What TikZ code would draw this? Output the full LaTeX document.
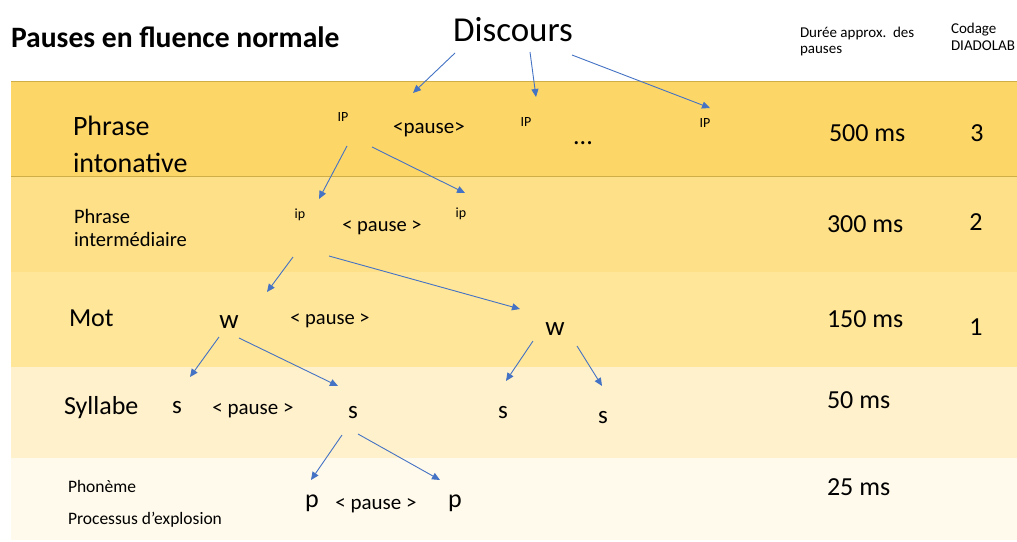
\documentclass[tikz,border=0pt]{standalone}
\usepackage{fontspec}
\setmainfont{Carlito}
\usetikzlibrary{arrows.meta,calc}
\definecolor{bandA}{HTML}{FDD668}
\definecolor{bandB}{HTML}{FEE088}
\definecolor{bandC}{HTML}{FFE699}
\definecolor{bandD}{HTML}{FFF1CC}
\definecolor{bandE}{HTML}{FFFAEB}
\definecolor{bandline}{HTML}{CFAE48}
\definecolor{arrblue}{HTML}{4472C4}
\newcommand{\fs}[1]{\fontsize{#1}{#1}\selectfont}
\tikzset{
  arr/.style={draw=arrblue,line width=0.9pt,-{Triangle[length=8pt,width=7pt]}},
  lbl/.style={inner sep=0pt,outer sep=0pt,anchor=base west},
  ctr/.style={inner sep=0pt,outer sep=0pt,anchor=base},
}
\begin{document}
\begin{tikzpicture}[x=1pt,y=-1pt]
\useasboundingbox (0,0) rectangle (1017,541);
\fill[white] (0,0) rectangle (1017,541);
% bands
\fill[bandE] (11,458) rectangle (1017,540);
\fill[bandD] (11,367) rectangle (1017,458);
\fill[bandC] (11,272) rectangle (1017,367);
\fill[bandB] (11,176) rectangle (1017,272);
\fill[bandA] (11,81) rectangle (1017,176);
\draw[bandline,line width=0.8pt] (11,81) -- (1017,81) (11,176) -- (1017,176);
% header
\node[lbl] (title) at (11,47) {\fs{29.6}\bfseries Pauses en fluence normale};
\node[ctr] (disc) at (513,41) {\fs{35}Discours};
\node[lbl,align=left] (dur1) at (800,37) {\fs{15}Durée approx.\ \ des};
\node[lbl] (dur2) at (800,53) {\fs{15}pauses};
\node[lbl] (cod1) at (951,33) {\fs{15}Codage};
\node[lbl] (cod2) at (951,50) {\fs{15}DIADOLAB};
% band 1
\node[lbl] (l1a) at (73,135) {\fs{28}Phrase};
\node[lbl] (l1b) at (73,172) {\fs{28}intonative};
\node[ctr] (IPa) at (343,121) {\fs{14}IP};
\node[ctr] (pz1) at (429,133) {\fs{21}<pause>};
\node[ctr] (IPb) at (526,126) {\fs{14}IP};
\node[ctr] (dots) at (583,144) {\fs{26}...};
\node[ctr] (IPc) at (705,127) {\fs{14}IP};
\node[lbl] (d1) at (829,141) {\fs{26}500 ms};
\node[ctr] (c1) at (977,141) {\fs{26}3};
% band 2
\node[lbl] (l2a) at (74,223) {\fs{20.5}Phrase};
\node[lbl] (l2b) at (74,246) {\fs{20.5}intermédiaire};
\node[ctr] (ipa) at (300,218) {\fs{14}ip};
\node[ctr] (pz2) at (382,231) {\fs{20.5}< pause >};
\node[ctr] (ipb) at (461,217) {\fs{14}ip};
\node[lbl] (d2) at (827,232) {\fs{26}300 ms};
\node[ctr] (c2) at (976,230) {\fs{26}2};
% band 3
\node[lbl] (l3) at (69,326) {\fs{26}Mot};
\node[ctr] (wa) at (229,328) {\fs{27}w};
\node[ctr] (pz3) at (330,324) {\fs{20.5}< pause >};
\node[ctr] (wb) at (555,335) {\fs{27}w};
\node[lbl] (d3) at (827,327) {\fs{26}150 ms};
\node[ctr] (c3) at (976,335) {\fs{26}1};
% band 4
\node[lbl] (l4) at (64,414) {\fs{26}Syllabe};
\node[ctr] (sa) at (177,413) {\fs{25}s};
\node[ctr] (pz4) at (253,414) {\fs{21}< pause >};
\node[ctr] (sb) at (353,418) {\fs{25}s};
\node[ctr] (sc) at (503,418) {\fs{25}s};
\node[ctr] (sd) at (603,423) {\fs{25}s};
\node[lbl] (d4) at (827,408) {\fs{26}50 ms};
% band 5
\node[lbl] (l5a) at (68,492) {\fs{17.5}Phonème};
\node[lbl] (l5b) at (68,524) {\fs{17.5}Processus d’explosion};
\node[ctr] (pa) at (312,507) {\fs{26}p};
\node[ctr] (pz5) at (376,509) {\fs{21}< pause >};
\node[ctr] (pb) at (455,507) {\fs{26}p};
\node[lbl] (d5) at (827,495) {\fs{26}25 ms};
% connectors
\draw[arr] ($(disc.base)+(-58,12)$) -- ($(pz1.base)+(-16,-40)$);
\draw[arr] ($(disc.base)+(17,11)$) -- ($(IPb.base)+(10,-29)$);
\draw[arr] ($(disc.base)+(59,14)$) -- ($(IPc.base)+(5,-19)$);
\draw[arr] ($(IPa.base)+(4,25)$) -- ($(ipa.base)+(19,-19)$);
\draw[arr] ($(IPa.base)+(29,26)$) -- ($(ipb.base)+(4,-24)$);
\draw[arr] ($(ipa.base)+(-7,39)$) -- ($(wa.base)+(38,-36)$);
\draw[arr] ($(ipa.base)+(29,38)$) -- ($(wb.base)+(-35,-26)$);
\draw[arr] ($(wa.base)+(-10,9)$) -- ($(sa.base)+(13,-36)$);
\draw[arr] ($(wa.base)+(10,10)$) -- ($(sb.base)+(-15,-32)$);
\draw[arr] ($(wb.base)+(-22,6)$) -- ($(sc.base)+(3,-37)$);
\draw[arr] ($(wb.base)+(22,11)$) -- ($(sd.base)+(-1,-37)$);
\draw[arr] ($(sb.base)+(-11,17)$) -- ($(pa.base)+(-1,-27)$);
\draw[arr] ($(sb.base)+(5,16)$) -- ($(pb.base)+(-15,-27)$);
\end{tikzpicture}
\end{document}
